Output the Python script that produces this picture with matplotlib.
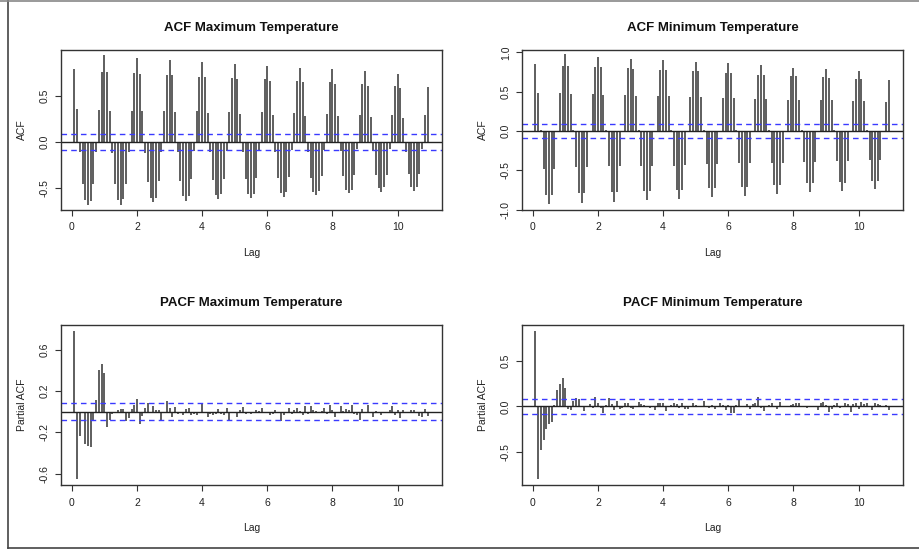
import matplotlib.pyplot as plt
from matplotlib.lines import Line2D

# lags 1..131 of monthly series, shown in years (lag / 12)
acf_max = [
    0.79, 0.355, -0.11, -0.456, -0.634, -0.685, -0.645, -0.456, -0.116, 0.344, 0.761, 0.942,
    0.757, 0.333, -0.123, -0.456, -0.634, -0.685, -0.623, -0.456, -0.116, 0.337, 0.746, 0.909,
    0.739, 0.33, -0.12, -0.435, -0.612, -0.66, -0.612, -0.428, -0.109, 0.337, 0.728, 0.888,
    0.721, 0.322, -0.109, -0.428, -0.59, -0.641, -0.59, -0.41, -0.10, 0.33, 0.703, 0.866,
    0.703, 0.312, -0.109, -0.417, -0.576, -0.623, -0.572, -0.41, -0.098, 0.319, 0.692, 0.841,
    0.678, 0.30, -0.109, -0.41, -0.565, -0.616, -0.565, -0.395, -0.098, 0.319, 0.678, 0.822,
    0.659, 0.29, -0.109, -0.395, -0.554, -0.598, -0.547, -0.384, -0.09, 0.308, 0.663, 0.804,
    0.645, 0.283, -0.109, -0.395, -0.547, -0.583, -0.54, -0.373, -0.09, 0.30, 0.652, 0.79,
    0.627, 0.279, -0.10, -0.373, -0.522, -0.562, -0.522, -0.359, -0.083, 0.29, 0.627, 0.764,
    0.605, 0.268, -0.10, -0.366, -0.504, -0.551, -0.496, -0.359, -0.08, 0.29, 0.605, 0.735,
    0.587, 0.257, -0.109, -0.355, -0.489, -0.533, -0.489, -0.351, -0.08, 0.286, 0.59,
]
acf_min = [
    0.847, 0.479, 0.01, -0.479, -0.81, -0.932, -0.81, -0.479, -0.01, 0.479, 0.83, 0.975,
    0.83, 0.47, 0.01, -0.462, -0.79, -0.91, -0.79, -0.462, -0.01, 0.47, 0.818, 0.94,
    0.81, 0.462, 0.01, -0.449, -0.78, -0.898, -0.78, -0.449, -0.01, 0.462, 0.80, 0.92,
    0.792, 0.449, 0.01, -0.449, -0.758, -0.881, -0.758, -0.44, -0.01, 0.449, 0.78, 0.898,
    0.771, 0.44, 0.01, -0.44, -0.754, -0.86, -0.746, -0.432, -0.01, 0.432, 0.758, 0.881,
    0.758, 0.432, 0.01, -0.424, -0.729, -0.839, -0.729, -0.424, -0.01, 0.42, 0.742, 0.86,
    0.742, 0.42, 0.01, -0.41, -0.712, -0.822, -0.712, -0.41, -0.01, 0.41, 0.716, 0.839,
    0.716, 0.41, 0.01, -0.40, -0.686, -0.797, -0.686, -0.40, -0.01, 0.40, 0.70, 0.805,
    0.70, 0.40, 0.01, -0.39, -0.665, -0.771, -0.665, -0.39, -0.01, 0.39, 0.686, 0.788,
    0.678, 0.39, 0.01, -0.381, -0.648, -0.758, -0.657, -0.381, -0.01, 0.381, 0.665, 0.767,
    0.665, 0.381, 0.01, -0.373, -0.64, -0.742, -0.64, -0.373, -0.01, 0.369, 0.653,
]
pacf_max = [
    0.78, -0.656, -0.235, -0.015, -0.315, -0.331, -0.341, -0.084, 0.109, 0.40, 0.466, 0.376,
    -0.151, -0.084, -0.026, -0.01, 0.013, 0.026, 0.026, -0.09, -0.058, 0.022, 0.064, 0.119,
    -0.116, -0.045, 0.035, 0.08, -0.016, 0.055, 0.019, 0.013, -0.084, -0.016, 0.103, 0.039,
    -0.055, 0.045, -0.019, -0.01, -0.035, 0.022, 0.032, -0.032, -0.026, -0.032, -0.006, 0.084,
    -0.013, -0.048, -0.026, -0.029, -0.019, 0.022, -0.019, -0.032, 0.039, -0.077, -0.01, -0.016,
    -0.048, 0.016, 0.045, -0.026, -0.006, -0.026, -0.01, 0.013, 0.006, 0.039, -0.013, -0.01,
    -0.032, -0.019, 0.016, -0.006, -0.087, -0.032, -0.01, 0.039, -0.026, 0.016, 0.032, 0.003,
    -0.035, 0.055, -0.019, 0.055, 0.019, 0.006, -0.01, 0.006, 0.039, -0.019, 0.064, 0.019,
    -0.055, -0.01, 0.055, 0.003, 0.022, 0.019, 0.064, -0.022, -0.035, -0.084, 0.022, -0.01,
    0.064, -0.006, -0.048, 0.006, -0.016, -0.032, -0.01, -0.003, 0.013, 0.055, -0.032, 0.019,
    -0.064, 0.013, -0.01, -0.006, 0.013, 0.016, -0.006, -0.045, -0.048, 0.022, -0.045,
]
pacf_min = [
    0.832, -0.80, -0.482, -0.372, -0.245, -0.19, -0.168, 0.011, 0.182, 0.241, 0.307, 0.197,
    -0.026, -0.044, 0.062, 0.095, 0.077, -0.011, -0.055, -0.011, 0.026, -0.018, 0.106, 0.04,
    -0.018, -0.069, 0.011, 0.091, 0.022, -0.036, 0.062, -0.033, -0.018, 0.04, 0.036, -0.018,
    -0.026, -0.011, 0.047, 0.022, 0.015, -0.011, -0.018, -0.011, -0.036, 0.036, 0.033, 0.04,
    -0.055, -0.011, 0.015, 0.036, 0.022, -0.018, 0.036, -0.033, -0.026, -0.011, 0.04, 0.015,
    -0.011, -0.011, 0.062, -0.011, -0.018, 0.011, -0.026, -0.011, 0.033, 0.015, -0.04, 0.015,
    -0.069, -0.069, 0.011, 0.084, -0.011, -0.011, 0.022, -0.026, 0.022, 0.033, 0.102, -0.018,
    -0.055, -0.011, 0.015, 0.033, -0.011, -0.026, 0.044, 0.002, 0.007, 0.007, 0.015, 0.022,
    0.033, 0.033, -0.011, 0.007, -0.018, -0.007, 0.007, 0.002, -0.036, 0.036, 0.044, 0.015,
    -0.066, -0.026, 0.015, 0.033, -0.018, -0.011, 0.033, 0.022, -0.062, 0.022, 0.033, -0.026,
    0.047, 0.022, 0.04, -0.011, -0.044, 0.033, 0.022, 0.015, -0.011, 0.015, -0.036,
]
conf = 0.085
titles = ["ACF Maximum Temperature", "ACF Minimum Temperature",
          "PACF Maximum Temperature", "PACF Minimum Temperature"]
ylabels = ["ACF", "ACF", "Partial ACF", "Partial ACF"]
series = [acf_max, acf_min, pacf_max, pacf_min]
yticks = [[-0.5, 0.0, 0.5], [-1.0, -0.5, 0.0, 0.5, 1.0],
          [-0.6, -0.2, 0.2, 0.6], [-0.5, 0.0, 0.5]]
ylims = [(-0.742, 0.997), (-1.003, 1.03), (-0.71, 0.84), (-0.865, 0.895)]
lags = [k / 12 for k in range(1, 132)]

plt.rcParams['font.family'] = ['Liberation Sans', 'DejaVu Sans']
fig = plt.figure(figsize=(9.19, 5.5), dpi=100)
W, H = 919, 550
# axes boxes in pixels: left, top, right, bottom
boxes = [(61, 50, 442, 210), (522, 50, 903, 210), (61, 325, 442, 485), (522, 325, 903, 485)]

for i in range(4):
    l, t, r, b = boxes[i]
    ax = fig.add_axes([l / W, 1 - b / H, (r - l) / W, (b - t) / H])
    ax.vlines(lags, 0, series[i], color='#333333', linewidth=1.1)
    ax.axhline(0, color='#222222', linewidth=1.0)
    ax.axhline(conf, color='#3a3aff', linestyle=(0, (4, 3)), linewidth=1.0)
    ax.axhline(-conf, color='#3a3aff', linestyle=(0, (4, 3)), linewidth=1.0)
    ax.set_xlim(-0.33, 11.36)
    ax.set_ylim(*ylims[i])
    ax.set_xticks([0, 2, 4, 6, 8, 10])
    ax.set_yticks(yticks[i])
    ax.set_yticklabels([f"{v:.1f}" for v in yticks[i]], rotation=90, va='center')
    ax.tick_params(direction='out', length=4, width=0.8, labelsize=7.5, color='#333333',
                   labelcolor='#222222')
    ax.tick_params(axis='x', pad=5)
    ax.tick_params(axis='y', pad=4)
    for s in ax.spines.values():
        s.set_color('#333333')
        s.set_linewidth(1.0)
    ax.set_title(titles[i], fontsize=9.5, fontweight='bold', pad=14, color='#111111')
    ax.set_xlabel("Lag", fontsize=7.5, labelpad=11, color='#222222')
    ax.set_ylabel(ylabels[i], fontsize=7.5, labelpad=9, color='#222222')

# frame around the picture
yb = 1 - 548 / H
fig.add_artist(Line2D([8 / W, 8 / W], [yb, 1], color='#444444', linewidth=1.2))
fig.add_artist(Line2D([8 / W, 1], [yb, yb], color='#444444', linewidth=1.2))
fig.add_artist(Line2D([0, 1], [0.999, 0.999], color='#888888', linewidth=1.2))

fig.savefig("out.png", dpi=100)
